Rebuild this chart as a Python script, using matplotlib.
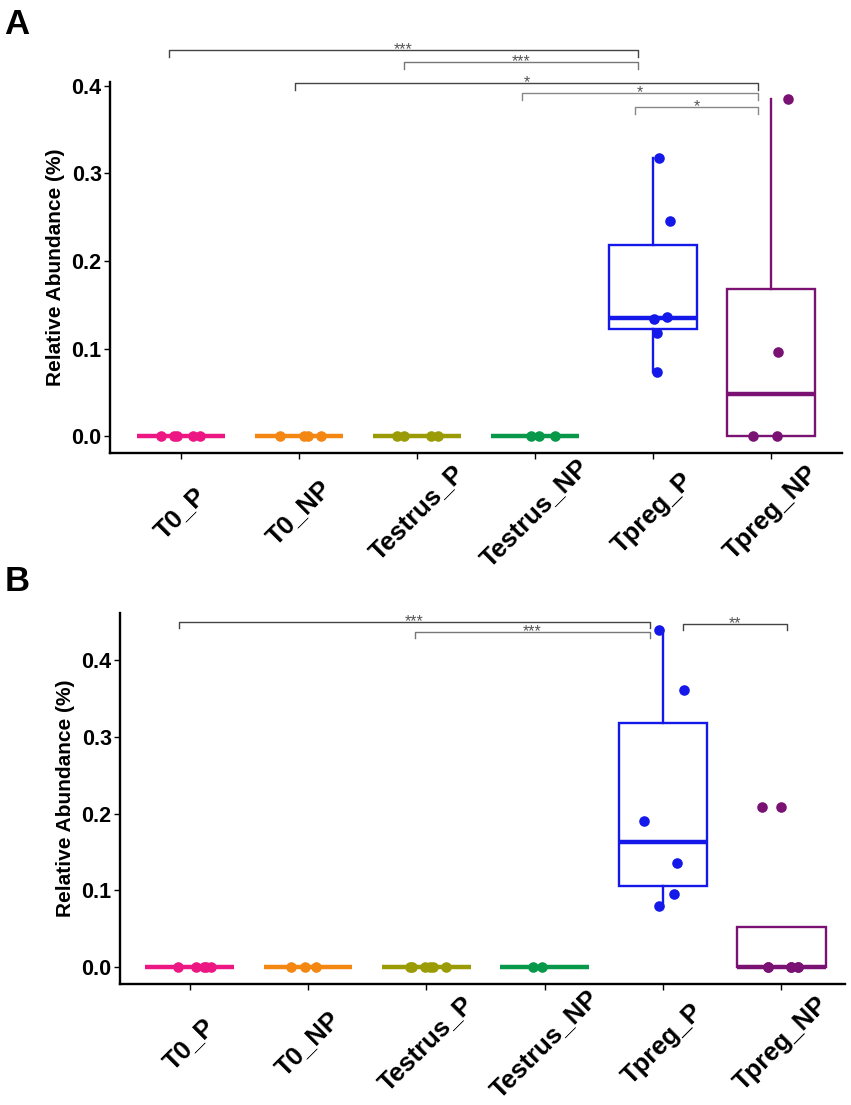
import matplotlib
matplotlib.use("Agg")
import matplotlib.pyplot as plt

plt.rcParams['font.family'] = ['Liberation Sans', 'DejaVu Sans']

groups = ["T0_P", "T0_NP", "Testrus_P", "Testrus_NP", "Tpreg_P", "Tpreg_NP"]
colors = ["#EC1783", "#F48612", "#9B9B05", "#08984A", "#1418E8", "#7A1274"]

# panel A values and jitter offsets
a_vals = [
    [0, 0, 0, 0, 0],
    [0, 0, 0, 0],
    [0, 0, 0, 0],
    [0, 0, 0],
    [0.318, 0.246, 0.134, 0.136, 0.118, 0.073],
    [0.385, 0.096, 0, 0],
]
a_jit = [
    [-0.17, -0.06, -0.03, 0.10, 0.16],
    [-0.16, 0.04, 0.08, 0.19],
    [-0.17, -0.11, 0.12, 0.18],
    [-0.03, 0.03, 0.17],
    [0.05, 0.14, 0.01, 0.12, 0.03, 0.03],
    [0.14, 0.06, -0.15, 0.05],
]
# brackets: x start, x end, y, label
a_sig = [
    (-0.10, 3.87, 0.441, "***"),
    (1.89, 3.87, 0.427, "***"),
    (0.97, 4.89, 0.403, "*"),
    (2.89, 4.89, 0.392, "*"),
    (3.85, 4.89, 0.376, "*"),
]

# panel B
b_vals = [
    [0, 0, 0, 0, 0],
    [0, 0, 0],
    [0, 0, 0, 0, 0, 0],
    [0, 0],
    [0.439, 0.361, 0.190, 0.136, 0.095, 0.079],
    [0.209, 0.209, 0, 0, 0, 0, 0, 0],
]
b_jit = [
    [-0.10, 0.05, 0.12, 0.14, 0.18],
    [-0.14, -0.03, 0.07],
    [-0.14, -0.12, -0.01, 0.03, 0.06, 0.17],
    [-0.10, -0.02],
    [-0.03, 0.18, -0.16, 0.12, 0.09, -0.03],
    [-0.16, 0.0, -0.11, 0.08, 0.14, 0.08, 0.14, -0.11],
]
b_sig = [
    (-0.09, 3.89, 0.449, "***"),
    (1.90, 3.89, 0.436, "***"),
    (4.17, 5.05, 0.447, "**"),
]

sig_greys = ["#444444", "#777777", "#444444", "#888888", "#888888"]


def panel(ax, vals, jit, sig, ylim, xlim, drop):
    pos = list(range(len(groups)))
    bp = ax.boxplot(vals, positions=pos, widths=0.75, showfliers=False,
                    patch_artist=True, showcaps=False, whis=1.5)
    for i, c in enumerate(colors):
        bp['boxes'][i].set(facecolor='white', edgecolor=c, linewidth=1.7, zorder=2)
        bp['medians'][i].set(color=c, linewidth=3.2, zorder=3, solid_capstyle='butt')
        for w in bp['whiskers'][2 * i:2 * i + 2]:
            w.set(color=c, linewidth=1.7, zorder=2)
    for i, c in enumerate(colors):
        xs = [i + j for j in jit[i]]
        ax.scatter(xs, vals[i], s=58, color=c, zorder=4, linewidths=0)
    for k, (x1, x2, y, lab) in enumerate(sig):
        g = sig_greys[k % len(sig_greys)]
        ax.plot([x1, x1, x2, x2], [y - drop, y, y, y - drop], color=g,
                linewidth=1.0, clip_on=False)
        ax.annotate(lab, ((x1 + x2) / 2, y), xytext=(0, -3),
                    textcoords='offset points', ha='center', va='baseline',
                    fontsize=11.5, color='#555555', annotation_clip=False)
    ax.set_xlim(*xlim)
    ax.set_ylim(*ylim)
    ax.set_yticks([0.0, 0.1, 0.2, 0.3, 0.4])
    ax.set_yticklabels(["0.0", "0.1", "0.2", "0.3", "0.4"], fontsize=15.5, fontweight='bold')
    ax.set_xticks(pos)
    ax.set_xticklabels(groups, fontsize=18.5, fontweight='bold', rotation=45,
                       ha='center', va='center', rotation_mode='anchor')
    ax.tick_params(axis='x', length=4, width=1, pad=39)
    ax.tick_params(axis='y', length=4, width=1, pad=2)
    ax.set_ylabel("Relative Abundance (%)", fontsize=15, fontweight='bold', labelpad=5)
    for s in ['top', 'right']:
        ax.spines[s].set_visible(False)
    for s in ['left', 'bottom']:
        ax.spines[s].set_linewidth(1.7)


fig = plt.figure(figsize=(8.51, 11.05), dpi=100)
ax1 = fig.add_axes([0.1293, 0.5900, 0.8601, 0.3357])
ax2 = fig.add_axes([0.1410, 0.1095, 0.8520, 0.3357])

panel(ax1, a_vals, a_jit, a_sig, (-0.0193, 0.4043), (-0.6, 5.6), 0.008)
panel(ax2, b_vals, b_jit, b_sig, (-0.022, 0.461), (-0.59, 5.54), 0.008)

fig.text(0.005, 0.993, "A", fontsize=25, fontweight='bold', va='top')
fig.text(0.005, 0.489, "B", fontsize=25, fontweight='bold', va='top')

fig.savefig("out.png", dpi=100, facecolor='white')
